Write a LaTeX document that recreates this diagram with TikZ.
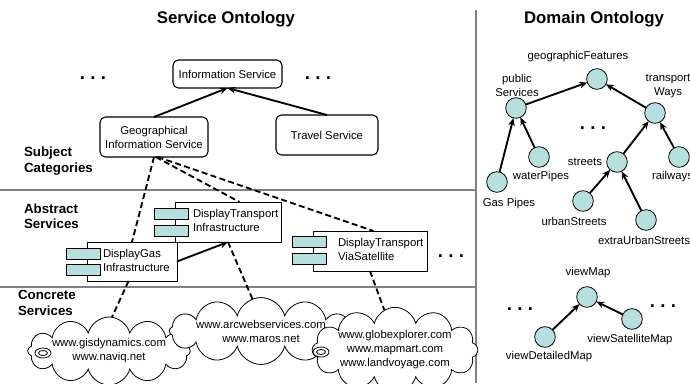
\documentclass[tikz,border=0pt]{standalone}
\usepackage{fontspec}
\setmainfont{Liberation Sans}
\usetikzlibrary{arrows.meta}
\usetikzlibrary{shapes.symbols}
\definecolor{conceptfill}{RGB}{183,223,224}
\definecolor{rulegray}{RGB}{128,128,128}

\begin{document}
\begin{tikzpicture}[x=0.75pt,y=-0.75pt,inner sep=0pt,outer sep=0pt,
font=\fontsize{8.5}{10.5}\selectfont,>={Stealth[length=6pt,width=5pt]},
heading/.style={font=\bfseries\fontsize{12.6}{15}\selectfont},
layer/.style={anchor=west,align=left,font=\bfseries\fontsize{10}{11.5}\selectfont},
catbox/.style={draw,rectangle,rounded corners=4pt,line width=0.8pt,align=center,minimum height=30pt},
compbox/.style={draw,rectangle,line width=0.6pt,minimum height=30pt},
comptab/.style={draw,rectangle,fill=conceptfill,line width=0.6pt,minimum width=25.5pt,minimum height=8.25pt},
compname/.style={anchor=west,align=left},
concept/.style={draw,circle,fill=conceptfill,line width=0.6pt,minimum size=15.5pt},
webcloud/.style={draw,cloud,cloud puffs=12,cloud ignores aspect,fill=white,line width=0.6pt,align=center},
dots/.style={anchor=base,font=\bfseries\fontsize{14}{14}\selectfont},
divider/.style={draw=rulegray,line width=1.5pt},
isa/.style={->,line width=1.4pt},
realizes/.style={line width=1.4pt,dash pattern=on 4.5pt off 2.5pt}]
\useasboundingbox (0,0) rectangle (690,383);

% layers and headings
\draw[divider] (476,10) -- (476,383);
\draw[divider] (0,190) -- (476,190);
\draw[divider] (0,287) -- (476,287);
\draw (226,19) node[heading] (svctitle) {Service Ontology};
\draw (594,19) node[heading] (domtitle) {Domain Ontology};
\draw (24,161) node[layer] (subject) {Subject\\Categories};
\draw (24,216) node[layer] (abstract) {Abstract\\Services};
\draw (18,303) node[layer] (concrete) {Concrete\\Services};

% subject categories
\draw (227.5,74) node[catbox,minimum width=81.75pt,minimum height=21pt] (info) {Information Service};
\draw (154,137) node[catbox,minimum width=81pt] (geo) {Geographical\\Information Service};
\draw (327,135) node[catbox,minimum width=76.5pt] (travel) {Travel Service};
\draw (93,79.5) node[dots] (dotsa) {.\hspace{4pt}.\hspace{4pt}.};
\draw (318,79.5) node[dots] (dotsb) {.\hspace{4pt}.\hspace{4pt}.};
\draw[isa] (geo.north) -- (info.south);
\draw[isa] (travel.north) -- (info.south);

% abstract services
\draw (132,261.5) node[compbox,minimum width=67.5pt,minimum height=29.25pt] (gas) {};
\draw (83,253.5) node[comptab] (gastaba) {};
\draw (83,269.5) node[comptab] (gastabb) {};
\draw (103,260.5) node[compname] (gasname) {DisplayGas\\Infrastructure};
\draw (228,222) node[compbox,minimum width=79.5pt] (dti) {};
\draw (171,213.5) node[comptab] (dtitaba) {};
\draw (171,230.5) node[comptab] (dtitabb) {};
\draw (193,220.5) node[compname] (dtiname) {DisplayTransport\\Infrastructure};
\draw (370,251) node[compbox,minimum width=85.5pt] (dtvs) {};
\draw (309.5,242) node[comptab] (dtvstaba) {};
\draw (309.5,258.5) node[comptab] (dtvstabb) {};
\draw (338,249) node[compname] (dtvsname) {DisplayTransport\\ViaSatellite};
\draw (451,257.5) node[dots] (dotsc) {.\hspace{4pt}.\hspace{4pt}.};
\draw[isa] (gas.east) -- (dti.south);

% concrete services
\draw (109,351) node[webcloud,minimum width=114pt,minimum height=51pt] (webgas) {www.gisdynamics.com\\www.naviq.net};
\draw (261,331) node[webcloud,minimum width=114pt,minimum height=43pt] (webtransport) {www.arcwebservices.com\\www.maros.net};
\draw (395,350) node[webcloud,minimum width=109pt,minimum height=64pt] (websat) {www.globexplorer.com\\www.mapmart.com\\www.landvoyage.com};
\draw[fill=white,line width=0.6pt] (43,353) ellipse [x radius=8,y radius=5];
\draw[line width=0.6pt] (43,353) ellipse [x radius=4.5,y radius=2.5];
\draw[fill=white,line width=0.6pt] (321,352) ellipse [x radius=8,y radius=5];
\draw[line width=0.6pt] (321,352) ellipse [x radius=4.5,y radius=2.5];

% realizations
\draw[realizes] (geo.-90) -- (gas.north);
\draw[realizes] (geo.-85) -- (dti.60);
\draw[realizes] (geo.-80) -- (dtvs.80);
\draw[realizes] (gas.260) -- (webgas.85);
\draw[realizes] (dti.south) -- (webtransport.105);
\draw[realizes] (dtvs.south) -- (websat.105);

% domain ontology
\draw (597,79) node[concept] (geofeat) {};
\draw (516,108) node[concept] (pubserv) {};
\draw (655,113) node[concept] (transways) {};
\draw (539,157) node[concept] (water) {};
\draw (497,182) node[concept] (gaspipes) {};
\draw (617,162) node[concept] (streets) {};
\draw (679,157) node[concept] (railways) {};
\draw (583,201) node[concept] (urban) {};
\draw (646,220) node[concept] (extra) {};
\draw (578,57) node (geofeatlbl) {geographicFeatures};
\draw (517,85.5) node[align=center] (pubservlbl) {public\\Services};
\draw (668,86) node[align=center] (transwayslbl) {transport\\Ways};
\draw (541,177) node (waterlbl) {waterPipes};
\draw (509,204) node (gaspipeslbl) {Gas Pipes};
\draw (585,162) node (streetslbl) {streets};
\draw (652,177) node[anchor=west] (railwayslbl) {railways};
\draw (574,221) node (urbanlbl) {urbanStreets};
\draw (598,240) node[anchor=west] (extralbl) {extraUrbanStreets};
\draw (593,129.5) node[dots] (dotsd) {.\hspace{4pt}.\hspace{4pt}.};
\draw[isa] (pubserv) -- (geofeat);
\draw[isa] (transways) -- (geofeat);
\draw[isa] (gaspipes) -- (pubserv);
\draw[isa] (water) -- (pubserv);
\draw[isa] (streets) -- (transways);
\draw[isa] (railways) -- (transways);
\draw[isa] (urban) -- (streets);
\draw[isa] (extra) -- (streets);

\draw (587,297) node[concept] (viewmap) {};
\draw (545,337) node[concept] (detailed) {};
\draw (632,319) node[concept] (satellite) {};
\draw (588,273) node (viewmaplbl) {viewMap};
\draw (549,357) node (detailedlbl) {viewDetailedMap};
\draw (630,340) node (satellitelbl) {viewSatelliteMap};
\draw (520,310.5) node[dots] (dotse) {.\hspace{4pt}.\hspace{4pt}.};
\draw (663,307.5) node[dots] (dotsf) {.\hspace{4pt}.\hspace{4pt}.};
\draw[isa] (detailed) -- (viewmap);
\draw[isa] (satellite) -- (viewmap);

\end{tikzpicture}
\end{document}
